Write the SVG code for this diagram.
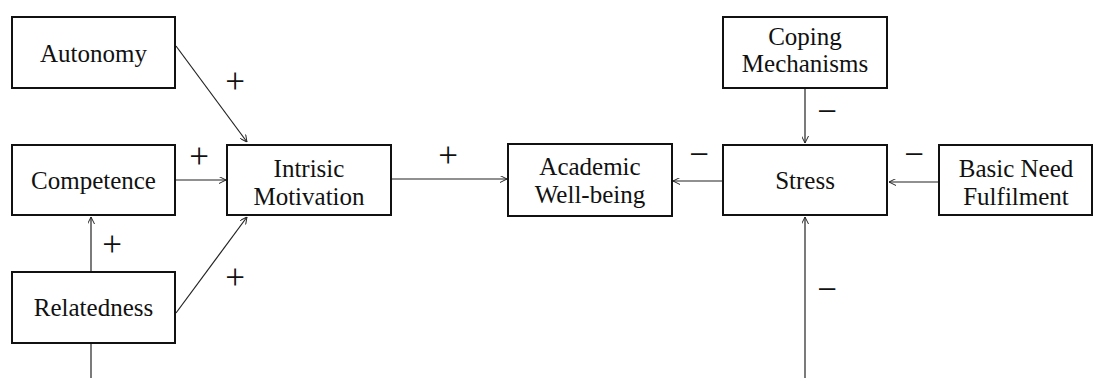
<svg xmlns="http://www.w3.org/2000/svg" width="1094" height="378" viewBox="0 0 1094 378">
<style>
.box{fill:#fff;stroke:#111;stroke-width:2}
.t{font-family:"Liberation Serif","Times New Roman",serif;font-size:25px;fill:#111;text-anchor:middle}
.c{stroke:#222;stroke-width:1.2;fill:none}
.s{font-family:"Liberation Serif","Times New Roman",serif;font-size:35px;fill:#111;text-anchor:middle}
</style>
<defs>
<marker id="a" viewBox="0 0 10 10" refX="10" refY="5" markerWidth="7" markerHeight="7" markerUnits="userSpaceOnUse" orient="auto">
<path d="M0,0 L10,5 L0,10" fill="none" stroke="#222" stroke-width="1.4"/>
</marker>
</defs>
<rect width="1094" height="378" fill="#fff"/>
<g id="connectors">
<line class="c" x1="176" y1="46" x2="247" y2="142" marker-end="url(#a)"/>
<line class="c" x1="176" y1="180" x2="226" y2="180" marker-end="url(#a)"/>
<line class="c" x1="176" y1="313" x2="247" y2="217" marker-end="url(#a)"/>
<line class="c" x1="91" y1="271" x2="91" y2="217" marker-end="url(#a)"/>
<line class="c" x1="91" y1="344" x2="91" y2="378"/>
<line class="c" x1="392" y1="179" x2="507" y2="179" marker-end="url(#a)"/>
<line class="c" x1="723" y1="181" x2="673" y2="181" marker-end="url(#a)"/>
<line class="c" x1="805" y1="89" x2="805" y2="143" marker-end="url(#a)"/>
<line class="c" x1="939" y1="182" x2="889" y2="182" marker-end="url(#a)"/>
<line class="c" x1="805" y1="378" x2="805" y2="217" marker-end="url(#a)"/>
<text class="s" x="235" y="93">+</text>
<text class="s" x="199" y="168">+</text>
<text class="s" x="112" y="256">+</text>
<text class="s" x="235" y="289">+</text>
<text class="s" x="448" y="167">+</text>
<text class="s" x="699" y="166">−</text>
<text class="s" x="827" y="123">−</text>
<text class="s" x="914" y="166">−</text>
<text class="s" x="827" y="301">−</text>
</g>
<g id="autonomy"><rect class="box" x="12" y="17" width="163" height="71"/><text class="t" x="93.5" y="62">Autonomy</text></g>
<g id="competence"><rect class="box" x="12" y="145" width="163" height="70"/><text class="t" x="93.5" y="189">Competence</text></g>
<g id="relatedness"><rect class="box" x="12" y="272" width="163" height="71"/><text class="t" x="93.5" y="316">Relatedness</text></g>
<g id="intrinsic"><rect class="box" x="227" y="145" width="164" height="70"/><text class="t" x="309" y="177">Intrisic</text><text class="t" x="309" y="205">Motivation</text></g>
<g id="wellbeing"><rect class="box" x="508" y="144" width="164" height="72"/><text class="t" x="590" y="175">Academic</text><text class="t" x="590" y="203">Well-being</text></g>
<g id="stress"><rect class="box" x="723" y="145" width="164" height="70"/><text class="t" x="805" y="189">Stress</text></g>
<g id="coping"><rect class="box" x="723" y="17" width="164" height="71"/><text class="t" x="805" y="45">Coping</text><text class="t" x="805" y="72">Mechanisms</text></g>
<g id="basicneed"><rect class="box" x="939" y="145" width="153" height="70"/><text class="t" x="1016" y="177">Basic Need</text><text class="t" x="1016" y="205">Fulfilment</text></g>
</svg>
